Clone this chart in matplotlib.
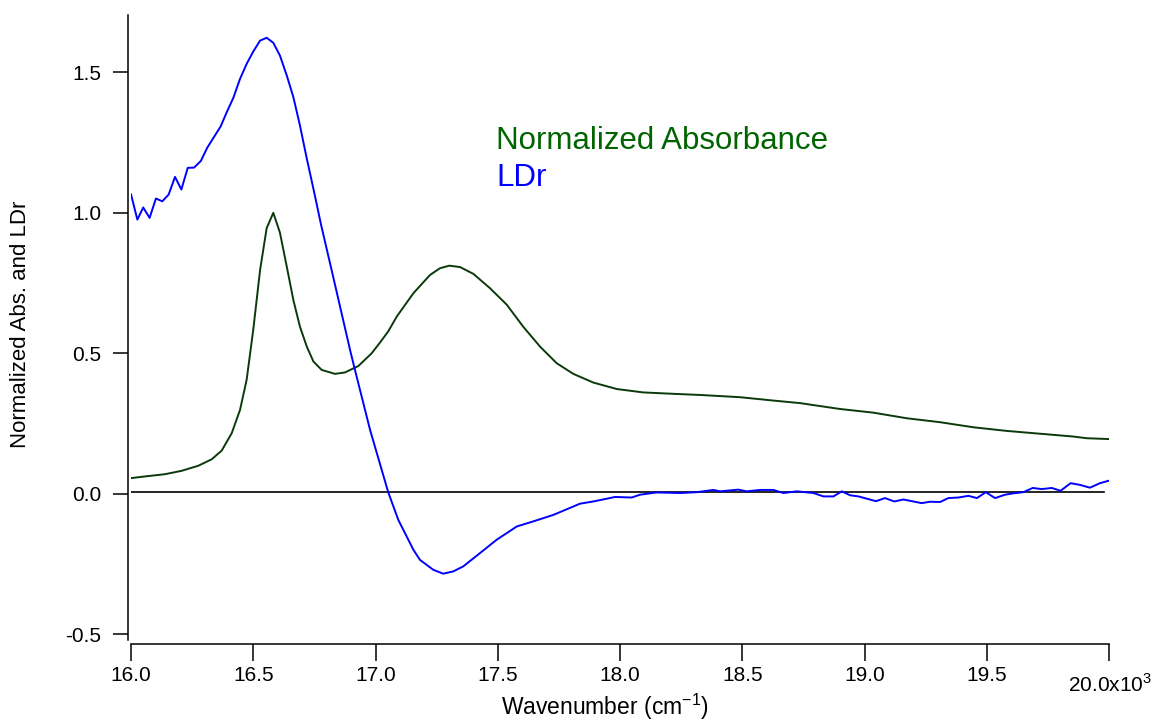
import numpy as np
import matplotlib
matplotlib.use("Agg")
import matplotlib.pyplot as plt
from matplotlib.ticker import FixedLocator, FuncFormatter

plt.rcParams['font.family'] = ['Liberation Sans', 'DejaVu Sans']
plt.rcParams['axes.unicode_minus'] = False
plt.rcParams['mathtext.fontset'] = 'custom'
plt.rcParams['mathtext.rm'] = 'Liberation Sans'

# LDr (blue)
ldr_wn = [16000, 16026, 16050, 16076, 16102, 16128, 16154, 16180, 16206, 16232,
          16258, 16286, 16312, 16338, 16367, 16393, 16418, 16446, 16473, 16500,
          16528, 16555, 16582, 16609, 16637, 16664, 16691, 16719, 16746, 16777,
          16827, 16896, 16916, 16978, 17052, 17093, 17155, 17182, 17236, 17277,
          17318, 17359, 17427, 17496, 17578, 17645, 17727, 17809, 17836, 17891,
          17980, 18048, 18082, 18150, 18246, 18314, 18382, 18409, 18484, 18518,
          18573, 18627, 18668, 18723, 18791, 18832, 18873, 18907, 18941, 18975,
          19047, 19084, 19122, 19159, 19234, 19268, 19309, 19343, 19384, 19425,
          19460, 19496, 19534, 19575, 19609, 19650, 19688, 19725, 19766, 19802,
          19843, 19881, 19922, 19963, 20000]
ldr = [1.066, 0.976, 1.019, 0.982, 1.051, 1.041, 1.065, 1.128, 1.083, 1.160,
       1.161, 1.185, 1.232, 1.268, 1.308, 1.361, 1.408, 1.477, 1.530, 1.574,
       1.613, 1.623, 1.605, 1.560, 1.489, 1.412, 1.311, 1.193, 1.086, 0.959,
       0.772, 0.512, 0.441, 0.227, 0.006, -0.092, -0.199, -0.235, -0.270, -0.284,
       -0.276, -0.258, -0.211, -0.163, -0.116, -0.098, -0.075, -0.045, -0.035, -0.027,
       -0.011, -0.013, -0.003, 0.005, 0.003, 0.006, 0.014, 0.009, 0.015, 0.009,
       0.014, 0.014, 0.003, 0.009, 0.003, -0.009, -0.009, 0.009, -0.005, -0.009,
       -0.026, -0.015, -0.027, -0.020, -0.033, -0.028, -0.029, -0.015, -0.013, -0.007,
       -0.015, 0.006, -0.015, -0.003, 0.002, 0.006, 0.021, 0.017, 0.021, 0.011,
       0.038, 0.032, 0.022, 0.038, 0.047]

# normalized absorbance (dark green)
abs_wn = [16000, 16057, 16139, 16207, 16275, 16330, 16371, 16412, 16446, 16473,
          16500, 16528, 16555, 16582, 16609, 16637, 16664, 16691, 16719, 16746,
          16780, 16834, 16875, 16930, 16984, 17018, 17052, 17087, 17155, 17223, 17264,
          17302, 17346, 17400, 17468, 17537, 17604, 17673, 17741, 17809, 17891,
          17987, 18095, 18218, 18327, 18450, 18491, 18627, 18736, 18900, 19036,
          19173, 19309, 19445, 19582, 19718, 19854, 19909, 20000]
absorb = [0.056, 0.062, 0.070, 0.082, 0.100, 0.123, 0.154, 0.216, 0.299, 0.406,
          0.584, 0.797, 0.946, 1.000, 0.930, 0.809, 0.690, 0.595, 0.524, 0.471,
          0.441, 0.427, 0.432, 0.455, 0.500, 0.538, 0.578, 0.631, 0.714, 0.779, 0.803,
          0.812, 0.807, 0.783, 0.732, 0.673, 0.595, 0.524, 0.465, 0.427, 0.396,
          0.373, 0.361, 0.356, 0.352, 0.346, 0.344, 0.332, 0.323, 0.302, 0.289,
          0.269, 0.255, 0.237, 0.224, 0.214, 0.204, 0.198, 0.195]

zero_wn = [16000, 19980]
zero = [0.006, 0.006]

x_ticks = [16000, 16500, 17000, 17500, 18000, 18500, 19000, 19500, 20000]
y_ticks = [-0.5, 0.0, 0.5, 1.0, 1.5]

fig = plt.figure(figsize=(11.56, 7.23), dpi=100)
ax = fig.add_axes([131 / 1156, 83 / 723, 978 / 1156, 625 / 723])

ax.plot(zero_wn, zero, color='black', lw=1.2)
ax.plot(abs_wn, absorb, color='#0a3a0a', lw=1.4)
ax.plot(ldr_wn, ldr, color='#0000ff', lw=1.4)

ax.set_xlim(16000, 20000)
ax.set_ylim(-0.52, 1.704)

for s in ['top', 'right']:
    ax.spines[s].set_visible(False)
ax.spines['left'].set_position(('outward', 2.2))
ax.spines['bottom'].set_position(('outward', 3))
ax.spines['left'].set_linewidth(1.1)
ax.spines['bottom'].set_linewidth(1.1)

ax.xaxis.set_major_locator(FixedLocator(x_ticks))
ax.yaxis.set_major_locator(FixedLocator(y_ticks))


def xfmt(v, pos):
    # last label is drawn separately, Igor style
    if v >= 20000:
        return ''
    return '%.1f' % (v / 1000)


ax.xaxis.set_major_formatter(FuncFormatter(xfmt))
ax.yaxis.set_major_formatter(FuncFormatter(lambda v, p: '%.1f' % v))
ax.tick_params(axis='x', direction='out', length=12, width=1.1, pad=4, labelsize=15)
ax.tick_params(axis='y', direction='out', length=11, width=1.1, pad=8, labelsize=15)

fig.text(1110 / 1156, 1 - 684 / 723, '20.0x10$^{3}$', fontsize=15,
         ha='center', va='center')

fig.text(605 / 1156, 1 - 707 / 723, 'Wavenumber (cm$^{-1}$)', ha='center', va='center', fontsize=16.5)
fig.text(21 / 1156, 1 - 324 / 723, 'Normalized Abs. and LDr', ha='center', va='center',
         rotation=90, fontsize=16)

fig.text(496 / 1156, 1 - 141 / 723, 'Normalized Absorbance', color='#006400',
         fontsize=22.5, ha='left', va='center')
fig.text(496 / 1156, 1 - 178 / 723, 'LDr', color='#0000ff',
         fontsize=22.5, ha='left', va='center')

fig.savefig('out.png', dpi=100)
